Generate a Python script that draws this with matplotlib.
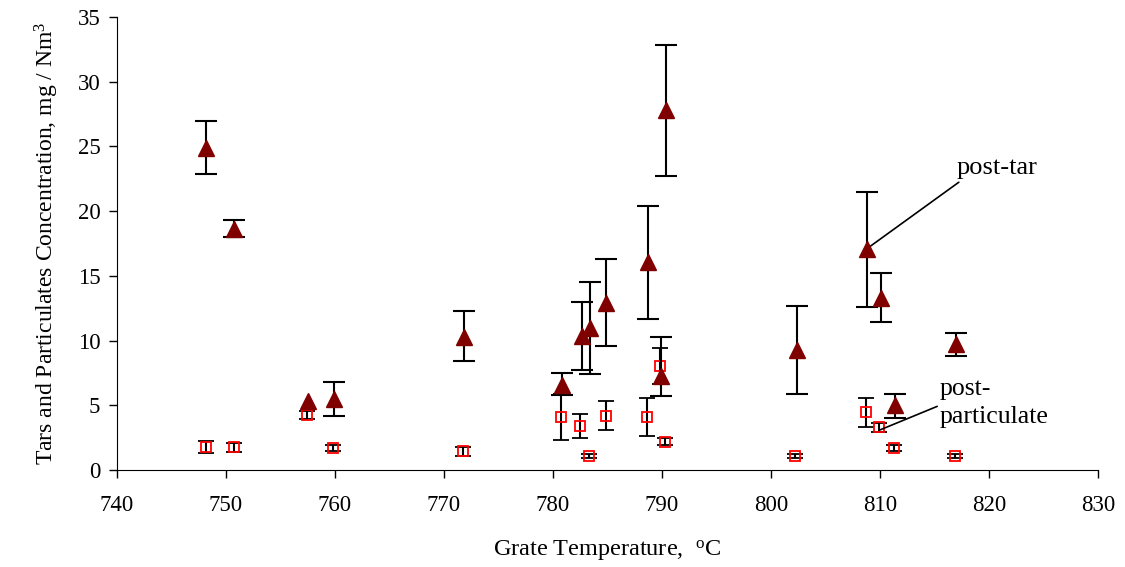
import matplotlib
matplotlib.use('Agg')
import matplotlib.pyplot as plt
import numpy as np

plt.rcParams['font.family'] = ['Liberation Serif', 'DejaVu Serif']
plt.rcParams['mathtext.fontset'] = 'custom'
plt.rcParams['mathtext.rm'] = 'Liberation Serif'
plt.rcParams['mathtext.it'] = 'Liberation Serif:italic'

# post-tar
tar_x = [748.2, 750.7, 757.5, 759.9, 771.8, 780.8, 782.7, 783.4, 784.9, 788.7, 790.4, 789.9, 802.4, 808.8, 810.1, 811.4, 817.0]
tar_y = [24.9, 18.6, 5.3, 5.5, 10.3, 6.6, 10.35, 10.95, 12.9, 16.1, 27.8, 7.3, 9.3, 17.1, 13.3, 5.0, 9.7]
tar_lo = [2.0, 0.6, 0.0, 1.3, 1.9, 0.8, 2.6, 3.5, 3.3, 4.4, 5.1, 1.6, 3.4, 4.5, 1.9, 0.95, 0.9]
tar_hi = [2.1, 0.7, 0.0, 1.3, 2.0, 0.9, 2.6, 3.6, 3.4, 4.3, 5.0, 3.0, 3.4, 4.4, 1.9, 0.9, 0.9]

# post-particulate
part_x = [748.2, 750.7, 757.4, 759.8, 771.7, 780.7, 782.5, 783.3, 784.9, 788.6, 789.8, 790.3, 802.2, 808.7, 809.9, 811.3, 816.9]
part_y = [1.8, 1.75, 4.25, 1.7, 1.45, 4.1, 3.4, 1.1, 4.2, 4.1, 8.05, 2.2, 1.1, 4.45, 3.3, 1.7, 1.1]
part_err = [0.45, 0.35, 0.3, 0.2, 0.35, 1.8, 0.9, 0.15, 1.1, 1.45, 1.4, 0.3, 0.15, 1.1, 0.35, 0.25, 0.15]

fig = plt.figure(figsize=(11.25, 5.67), dpi=100)
ax = fig.add_axes([0.104, 0.171, 0.872, 0.799])

ax.errorbar(part_x, part_y, yerr=part_err, fmt='s', ms=7, mfc='none', mec='#ff0000',
            mew=1.3, ecolor='black', elinewidth=1.5, capsize=6, capthick=1.5, zorder=2)

# only draw tar error bars where there is one
tx = np.array(tar_x)
ty = np.array(tar_y)
lo = np.array(tar_lo)
hi = np.array(tar_hi)
m = (lo + hi) > 0
ax.errorbar(tx[m], ty[m], yerr=[lo[m], hi[m]], fmt='none', ecolor='black',
            elinewidth=1.5, capsize=8, capthick=1.5, zorder=3)
ax.plot(tx, ty, '^', ms=12, color='#800000', zorder=4)

ax.annotate('post-tar', xy=(808.8, 17.1), xytext=(820.7, 23.3), fontsize=19,
            ha='center', va='center',
            arrowprops=dict(arrowstyle='-', color='black', lw=1.2, shrinkA=0, shrinkB=0,
                            relpos=(0.08, 0.0)))
ax.annotate('post-\nparticulate', xy=(810.0, 3.1), xytext=(815.5, 5.2), fontsize=18.5,
            ha='left', va='center', linespacing=1.35,
            arrowprops=dict(arrowstyle='-', color='black', lw=1.2, shrinkA=0, shrinkB=0,
                            relpos=(0.0, 0.45)))

ax.set_xlim(740, 830)
ax.set_ylim(0, 35)
ax.set_xticks(range(740, 831, 10))
ax.set_yticks(range(0, 36, 5))
ax.spines['top'].set_visible(False)
ax.spines['right'].set_visible(False)
ax.tick_params(labelsize=16.5, direction='out', length=6, width=1)
ax.tick_params(axis='x', pad=12)
ax.tick_params(axis='y', pad=6)

ax.set_xlabel(r'Grate Temperature,  $^{\mathrm{o}}$C', fontsize=17.5, labelpad=16)
ax.set_ylabel(r'Tars and Particulates Concentration, mg / Nm$^{3}$', fontsize=17, labelpad=12)

fig.savefig('out.png', dpi=100)
